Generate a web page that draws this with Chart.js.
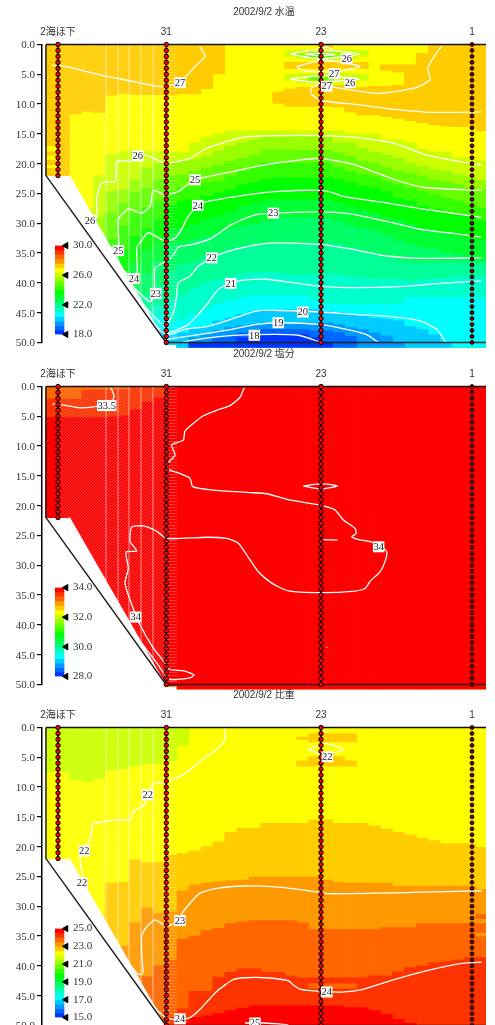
<!DOCTYPE html>
<html>
<head>
<meta charset="utf-8">
<title>2002/9/2</title>
<script src="https://cdn.jsdelivr.net/npm/chart.js@4"></script>
<style>
  html, body { margin: 0; padding: 0; background: #fff; overflow: hidden; width: 495px; height: 1025px; }
  canvas { position: absolute; }
</style>
</head>
<body>
<canvas id="temp" style="left:0;top:0" width="495" height="351"></canvas>
<canvas id="salt" style="left:0;top:342px" width="495" height="351"></canvas>
<canvas id="dens" style="left:0;top:683px" width="495" height="351"></canvas>
<canvas id="tempBar" style="left:50px;top:236px" width="60" height="108"></canvas>
<canvas id="saltBar" style="left:50px;top:578px" width="60" height="108"></canvas>
<canvas id="densBar" style="left:50px;top:919px" width="60" height="108"></canvas>
<script>
const _ = null

// --- STATIONS --- //
const stationNames = ['2海ほ下', '31', '23', '1']
const stationX = [0, 108.3, 263, 414]
const shallowDepths = [0,1,2,3,4,5,6,7,8,9,10,11,12,13,14,15,16,17,18,19,20,21,22]
const deepDepths = [0,1,2,3,4,5,6,7,8,9,10,11,12,13,14,15,16,17,18,19,20,21,22,23,24,25,26,27,28,29,30,31,32,33,34,35,36,37,38,39,40,41,42,43,44,45,46,47,48,49,50]

// --- GRID --- //
const columns = [-6.6,5.4,17.3,29.3,41.3,53.2,65.2,77.2,89.1,101.1,113,125,137,148.9,160.9,172.8,184.8,196.8,208.7,220.7,232.6,244.6,256.6,268.5,280.5,292.5,304.4,316.4,328.3,340.3,352.3,364.2,376.2,388.2,400.1,412.1,424]
const floorDepths = [22,22,25.2,28.7,32.2,35.7,39.2,42.7,46.2,49.7,
  50.3,50.8,50.8,50.8,50.8,50.8,50.8,50.8,50.8,50.8,
  50.8,50.8,50.8,50.8,50.8,50.8,50.8,50.8,50.8,50.8,
  50.8,50.8,50.8,50.8,50.8,50.8,50.8]
const allZero = [0,0,0,0,0,0,0,0,0,0,0,0,0,0,0,0,0,0,0,0,0,0,0,0,0,0,0,0,0,0,0,0,0,0,0,0,0]
const seabedLineX = [-12, -12, 108, 428]
const seabedLineDepth = [0, 22, 50, 50]
const maskX = [10.5, 12, 108]
const maskDepth = [22, 22, 50]
const wedgeEdges = [48, 60, 71, 83, 95]

// colour steps of the scale, top to bottom
const palette = ['#ff0000','#ff3300','#ff6600','#ff9900','#ffcc00','#ffff00','#ccff00','#99ff00','#66ff00','#33ff00','#00ff00','#00ff33','#00ff66','#00ff99','#00ffcc','#00ffff','#00ccff','#0099ff','#0066ff','#0033ff']

// --- WATER TEMPERATURE | band tops per column --- //
const tempOrangeTop = [0,0,0,0,0,0,0,0,0,0,0,0,0,0,0,_,_,_,_,8,7.5,7.2,7.2,6.8,6.8,7,7.2,7,7,6.8,3.4,1.5,0,0,0,0,0]
const tempOrangeBottom = [17,22,11.7,11.2,11.4,8.5,8.2,8.4,8.4,8.4,8.5,8.3,8.3,7.4,4.9,_,_,_,_,9.9,10.4,10.4,10.4,10.4,10.5,11.3,11.8,11.8,12.1,12.4,12.8,13.1,13.5,13.7,13.8,13.8,14.5]
const tempCcff00 = [_,_,_,27.7,22,18.5,18,17.7,18,18,
  18,18,16.5,15.5,15,14.5,14.5,14.5,14.5,14.5,
  14.5,14.5,14.5,14.5,14.5,15,15,15,16,16,
  16.5,17.5,18,18,19,19,19.5]
const temp99ff00 = [_,_,_,_,28.9,24.7,24.4,22.7,20.7,20,
  19.9,19.6,19.3,18.8,17.9,17.1,16.5,16,15.5,15.5,
  15.5,15.5,15.5,15.5,16.5,16.5,17.4,18.1,18.5,19.1,
  19.9,20.5,21,21.3,21.9,22.2,22.8]
const temp66ff00 = [_,_,_,_,32.2,28.3,26.6,24.9,24.1,22.7,
  22.1,21.9,21.3,20.7,20.2,19.6,19.1,18.5,17.7,17.7,
  17.7,17.7,17.7,17.7,18.2,18.8,19.6,19.9,20.7,21.3,
  21.6,22.1,22.7,23,23.5,24.1,24.4]
const temp33ff00 = [_,_,_,_,_,32.8,30.5,28.3,27.4,26.3,
  24.7,24.1,23.8,23.2,23,22.1,21.3,20.7,19.9,19.9,
  19.9,19.9,19.9,19.9,20.7,21.3,21.9,22.2,23,23.5,
  24.1,24.7,25.2,25.8,26.3,26.9,27.5]
const temp00ff00 = [_,_,_,_,_,36.7,34.4,32.2,30.8,29.4,
  26.9,26.3,26,25.5,25,24.4,23.5,23.2,22.7,22.4,
  22.4,22.4,22.4,22.4,22.7,23.2,23.8,24.1,24.7,25.8,
  26.3,27.2,27.7,28.3,28.6,28.9,29.7]
const temp00ff33 = [_,_,_,_,_,_,38.4,36.7,34.4,33.3,
  31,30.8,30.2,29.4,28.9,28,27.2,26.6,26.3,26,
  26,26,26,26,26.6,27.2,27.7,28.3,29.1,29.4,
  30.2,30.8,31.3,31.6,32.2,32.5,33]
const temp00ff66 = [_,_,_,_,_,_,_,40.6,38.4,36.4,
  33.5,33.3,32.8,32.2,31.6,31,30.5,30.2,29.7,29.1,
  29.1,29.1,29.1,29.1,29.7,30.5,31,31.3,32.2,33,
  33.6,34.1,34.4,35,35.3,35.8,36.4]
const temp00ff99 = [_,_,_,_,_,_,_,_,42.2,40.6,
  38,37,36.4,35.5,35,34.4,33.9,33.6,33.3,33.3,
  33.3,33.3,33.3,33.3,33.6,34.1,34.7,35.3,35.8,36.4,
  36.7,36.7,36.7,36.7,36.7,36.7,36.7]
const temp00ffcc = [_,_,_,_,_,_,_,_,44.7,43.9,
  42.8,42,40.9,40,39.5,38.9,38.6,38.3,38.3,38.3,
  38.6,38.6,38.6,38.6,38.6,38.9,39.2,39.5,39.5,39.5,
  39.7,39.5,39.2,39.2,38.9,38.9,38.9]
const temp00ffff = [_,_,_,_,_,_,_,_,_,45.9,
  46.7,46.1,45.3,44.5,43.6,43,42.5,42.2,42.2,42.2,
  42.2,42.2,43,43.6,43.6,43.6,43.6,43.6,43.6,43.6,
  42.5,42.5,42.5,42.5,42.5,42.5,42.5]
const temp00ccff = [_,_,_,_,_,_,_,_,_,47.8,
  48.9,48.4,47.8,47.3,46.4,45.9,45.3,44.8,44.5,44.5,
  44.5,44.5,44.5,44.8,45,45.3,45.6,45.9,46.1,46.4,
  47.3,47.8,48.7,50,_,_,_]
const temp0099ff = [_,_,_,_,_,_,_,_,_,48.9,
  _,_,49.2,48.7,48,47.5,47.2,47,46.7,46.7,
  46.7,46.7,46.7,46.7,47,47.5,47.8,48.4,48.9,50,
  _,_,_,_,_,_,_]
const temp0066ff = [_,_,_,_,_,_,_,_,_,_,
  _,_,50,50,49.2,48.9,48.4,48,47.8,47.8,
  47.8,47.8,48.1,48.1,48.4,49,_,_,_,_,
  _,_,_,_,_,_,_]
const temp0033ff = [_,_,_,_,_,_,_,_,_,_,
  _,_,50,50,50,50,49.2,49,48.7,48.7,
  48.7,48.7,49.2,50,_,_,_,_,_,_,
  _,_,_,_,_,_,_]

// [colour, column indexes, tops, bottoms]
const tempPatches = [
  ['#ffcc00', [0,0,0], [18,19.4,20.8], [18.6,20.2,22]],
  ['#ffcc00', [28,29], [3.4,3.4], [4.3,4.6]],
  ['#ffcc00', [20,21,22,23,24,25,26], [3,3,3,3,3,3,3], [4,4,4,4,4,4,4]],
  ['#ffcc00', [23], [0], [0.6]],
  ['#ccff00', [20,21,22,23,24,25,26], [1,0.9,0.9,0.9,0.9,0.9,1], [2,2.4,2.5,2.5,2.5,2.4,2]],
  ['#99ff00', [21,22,23,24], [1.4,1.3,1.3,1.4], [2,2.2,2.2,2]],
  ['#33ff00', [22,23], [1.7,1.7], [2,2]],
  ['#ccff00', [20,21,22,23,24,25,26], [5,4.9,4.9,4.9,4.9,4.9,5], [6,6.4,6.5,6.5,6.5,6.4,6]],
  ['#66ff00', [22,23], [5.5,5.5], [6,6]]
]

const tempContours = [
  [[-5.7,3.5],[8.7,3.7],[42,5.1],[75.3,6.2],[98.7,7],[108.3,7],[122,6.4],[132,4.6],[138.7,3.4],[147,2],[142,0.4]],
  [[423.7,20.2],[400.3,19.6],[367,18.5],[337,16.6],[297,15.6],[263,15.3],[220.3,15.3],[187,15.5],[168.7,16.3],[148.7,17.4],[132,19.1],[108.3,19.9],[85.3,18.5],[73.7,19.6],[58.7,19.6],[57,23],[43.7,23.2],[38.7,26],[38.7,29.1],[32,29.5]],
  [[423.7,24.5],[367,24],[337,22.7],[297,20.2],[263,19.1],[240.3,19.4],[207,20.2],[167,21.6],[137,22.7],[127,23.8],[120.3,24.7],[107,25.2],[95.3,24.5],[92,27.2],[83.7,28.3],[70.3,27.6],[60.3,29.4],[60.3,34.6],[43.7,33]],
  [[423.3,29],[368.7,27.7],[328.7,26.6],[285.3,25.5],[275.3,24.9],[263,24.5],[223.7,24.6],[190.3,25.2],[143.7,26.6],[130.3,28.8],[123.7,31],[117,32.5],[107,33],[90.3,31.6],[82,33.3],[78.7,34.1],[79.3,37.8],[76,39.3],[54.3,36.2]],
  [[423.3,32.3],[362,31],[328.7,29.7],[295.3,28.5],[263,28.1],[217,28.3],[197,28.6],[173.7,30.2],[153.7,32.5],[133.7,33.6],[120.3,34],[115.3,35.3],[107,36.5],[97,37.5],[96.5,41],[92,43.2],[63.7,38.7]],
  [[423.3,35.8],[362,35.9],[328.7,35.5],[295.3,34.4],[263,33.6],[217,33.3],[190.3,33.9],[160.3,35.3],[140.3,37.2],[132,38.9],[120.3,40],[118.7,42.2],[115.3,45],[107,47.3],[95,45.5],[72,41]],
  [[423.3,39.7],[382,40.1],[345.3,40.6],[295.3,40.8],[263,40.6],[240.3,40.1],[207,39.4],[183.7,39.6],[172.7,40.1],[160.3,41.1],[150.3,43.3],[140.3,45.3],[130.3,47],[120.3,47.8],[107,48.5],[98,47.2],[84,44.5]],
  [[388,50],[378.7,47.8],[362,46.4],[328.7,45.6],[295.3,45.3],[263,44.9],[213.7,44.6],[197,44.8],[173.7,46.1],[150.3,47.3],[127,47.8],[107,49]],
  [[320.3,50],[308.7,48.7],[288.7,47.8],[263,47],[220.3,46.7],[197,47],[173.7,47.8],[140.3,48.7],[107,49.5]],
  [[263,50],[240.3,48.8],[197,48.7],[157,49.1],[123.7,50],[118.7,50.6]],
  [[232,1.6],[247,1.1],[263,0.9],[283.7,1.2],[302,1.6],[283.7,2.1],[263,2.4],[247,2.1],[232,1.6]],
  [[247,1.6],[262,1.5],[277,1.7],[262,1.9],[247,1.6]],
  [[263,0.8],[268.7,0.4],[274.3,0.8]],
  [[238.7,3.7],[263,2.7],[283.7,3],[302,3.7],[283.7,4.4],[263,4.6],[243.7,4.3],[238.7,3.7]],
  [[232,5.8],[263,5.2],[283.7,5.5],[302,5.8],[283.7,6.1],[263,6.4],[247,6.2],[232,5.8]],
  [[383.7,0.3],[377,1.8],[369.7,4],[372,5.9],[357,7.3],[320.3,8.2],[287,7.5],[263,6.8],[253.7,7.2],[252.7,8.2],[263,9.4],[300.3,10.1],[337,10.9],[373.7,11.4],[423.7,11.3]]
]
const tempLabelText = ['27','26','26','25','24','23','22','21','20','19','18','26','27','27','26','25','24','23']
const tempLabelX = [122,79.7,32,137,139.7,215.3,153.7,172.7,244.7,220.3,196.3,288.7,276.3,268.7,292,60.3,76,97.7]
const tempLabelDepth = [6.4,18.7,29.5,22.7,27,28.3,35.8,40.1,44.9,46.7,48.8,2.4,4.9,7,6.4,34.6,39.3,41.8]
const tempLevels = [18,18.6,19.2,19.8,20.4,21,21.6,22.2,22.8,23.4,24,24.6,25.2,25.8,26.4,27,27.6,28.2,28.8,29.4,30]
const tempTicks = [18,22,26,30]

// --- SALINITY | band tops per column --- //
const saltFf3300Top = [0,0,0,0,0,0,0,0,0,0,_,_,_,_,_,_,_,_,_,_,_,_,_,_,_,_,_,_,_,_,_,_,_,_,_,_,_]
const saltFf3300Bottom = [5.1,5.1,5.1,5.1,5.1,5,4.8,3.8,2.5,1.8,_,_,_,_,_,_,_,_,_,_,_,_,_,_,_,_,_,_,_,_,_,_,_,_,_,_,_]
const saltPatches = [
  ['#ff6600', [0,1,2], [0,0,0], [2,2,2]],
  ['#ff6600', [3,4,5,6], [0,0,0,0], [0.5,0.5,0.5,0.4]]
]
const saltContours = [
  [[-5.7,2.9],[8.7,3.2],[23.7,3.6],[40.3,3.3],[53.7,2.6],[56,1.6],[53,0.2]],
  [[186.3,0.2],[182,1.8],[172,3.2],[158.7,4],[145.3,4.9],[135.3,6.2],[127,7.5],[125.3,9],[113.7,9.8],[117,11.5],[110.3,12.8],[108.7,13.8],[118.7,14.4],[132,15.4],[134.7,16.8],[155.3,17.4],[192,17.8],[208.7,18],[230.3,19],[262,19.9],[277,20.7],[285.3,22.4],[297,23.8],[298,24.7],[293.7,25.2],[298.7,25.6],[317,26.3],[328.7,27.7],[327,29.4],[322,31.1],[312,32.7],[307,33.9],[293.7,34.4],[263,34.6],[230.3,34.3],[213.7,33],[200.3,31.1],[192,29.1],[180.3,26.3],[168.7,25.5],[148.7,25.3],[108.7,25.5],[98.7,24.3],[85.3,23.4],[73.7,23.6],[72,26],[78.7,27.6],[68,27.8],[70.3,30.5],[67,33],[73.7,36.6],[82,40],[95.3,43.9],[107,46.4],[112,47.5],[125.3,47.7],[136,48.4],[132,48.9],[112,49.2],[107,48.4],[98.7,46.4],[62,38.3]],
  [[245.3,16.7],[263,16.3],[279.7,16.7],[263,17.2],[245.3,16.7]],
  [[265.3,25.7],[279.7,25.8],[265.3,25.7]],
  [[268.2,43.8],[269.2,43.8]]
]
const saltLabelText = ['33.5','34','34']
const saltLabelX = [48.7,77.7,320.7]
const saltLabelDepth = [3.2,38.7,26.9]
const saltLevels = [28,28.3,28.6,28.9,29.2,29.5,29.8,30.1,30.4,30.7,31,31.3,31.6,31.9,32.2,32.5,32.8,33.1,33.4,33.7,34]
const saltTicks = [28,30,32,34]

// --- DENSITY | band tops per column --- //
const densCcff00Top = [0,0,0,0,0,0,0,0,0,0,0,0,_,_,_,_,_,_,_,_,_,_,_,_,_,_,_,_,_,_,_,_,_,_,_,_,_]
const densCcff00Bottom = [7.4,7.4,8.8,9.1,8.5,7.1,6.9,6.5,6.1,5.9,5.7,3,_,_,_,_,_,_,_,_,_,_,_,_,_,_,_,_,_,_,_,_,_,_,_,_,_]
const densFfcc00 = [_,_,_,_,31.7,26.1,26,22.2,22.7,22.6,
  21.4,21.1,20.7,20,19.2,17.6,16.9,16.9,16.1,16.1,
  16.1,16.1,15.5,15.5,16.1,16.1,16.1,16.5,17.1,17.6,
  18,18.6,19,19.5,19.5,19.5,20.1]
const densFf9900 = [_,_,_,_,_,_,36.7,32.8,30.3,31.2,
  30.9,27.4,26.4,26.1,25.9,25.7,25.6,25.1,25.1,25.1,
  25.1,25.1,25.1,25.6,26,26.1,26.1,26.1,26.1,26.6,
  26.6,26.6,26.6,26.6,26.6,26.6,27.2]
const densFf6600 = [_,_,_,_,_,_,_,_,41.8,40,
  39,35.5,35,34.1,33.7,32.9,32.6,32.4,32.4,32.4,
  32.4,32.8,33.9,33.9,33.9,33.9,33.9,33.9,33.6,33.6,
  33.6,32.9,32.9,32.9,32.9,32.9,32.9]
const densFf3300 = [_,_,_,_,_,_,_,_,_,_,
  48.5,47.2,44.3,44.3,41.9,41.1,40.5,40.5,41.1,41.1,
  41.7,42,42,42,42,42,42,41.7,41.7,41,
  40.3,40,39.5,39.3,39,38.6,38.6]
const densFf0000 = [_,_,_,_,_,_,_,_,_,_,
  _,49.6,48.7,48.4,48,47.5,47.1,46.7,46.7,46.7,
  46.7,46.7,46.7,46.7,46.7,47,47,47.5,48.2,49,
  49.6,_,_,_,_,_,_]
const densPatches = [
  ['#ffcc00', [21,22,23,24,25], [1.6,1,1,1,1], [2,2.4,2.4,2.4,2.4]],
  ['#ffcc00', [22,23,24], [4.9,4.9,4.9], [5.6,5.6,5.6]],
  ['#ffcc00', [21,22,23,24,25], [5.6,5.6,5.6,5.6,5.6], [6.5,6.5,6.5,6.5,6.5]],
  ['#ff6600', [36], [31.4], [32.1]],
  ['#ff9900', [36], [34.5], [35]],
  ['#ff6600', [22,23,24,25], [43,43,43,43], [43.8,43.8,43.8,43.8]]
]
const densContours = [
  [[167.7,0.2],[166,2.4],[155.3,4.1],[145.3,5.2],[133.7,6.9],[118.7,8.5],[108.3,9.1],[95.3,9.5],[89.7,11.3],[86,13],[75.3,14.1],[72,15.5],[55.3,15.5],[45.3,15.8],[34.7,16.2],[32.7,18.3],[26.3,20.7],[22,21.9],[23,23.3],[24.7,25],[24,26.1]],
  [[250.3,3.7],[267,2.7],[285.3,3.7],[267,4.6],[250.3,3.7]],
  [[265.3,0.7],[270.3,0.7]],
  [[421.3,0.7],[423.7,0.7]],
  [[423.7,27.4],[373.7,27.6],[320.3,27.8],[273.7,27.9],[262,27.7],[237,27.1],[213.7,26.7],[187,26.6],[158.7,27],[142,27.8],[132,29.5],[123.7,31.3],[122,32.4],[108.3,33.3],[97,32.3],[88.7,33.4],[83.7,34.9],[83.7,37.9],[84.7,41.2],[80.3,41.4],[70.3,39.5],[60.3,37.9]],
  [[423.7,39.4],[403.7,39.6],[367,40.9],[330.3,42.6],[303.7,44],[283.7,44.4],[263,44.3],[242,43.9],[235.3,43.2],[230.3,42.5],[207,42],[187,42],[175.3,42.3],[158.7,44.3],[142,47.3],[132,48.7],[118.7,49.1],[108.3,48.7],[98.7,47.3],[85.3,44.3]],
  [[187,49.6],[207,49.6],[230.3,49.9]]
]
const densLabelText = ['22','22','22','22','23','24','24','25']
const densLabelX = [89.7,26.3,24,269.3,122,122,268.7,197]
const densLabelDepth = [11.3,20.7,26.1,4.9,32.4,48.9,44.4,49.6]
const densLevels = [15,15.5,16,16.5,17,17.5,18,18.5,19,19.5,20,20.5,21,21.5,22,22.5,23,23.5,24,24.5,25]
const densTicks = [15,17,19,21,23,25]

// --- HELPERS --- //
const serif = "'Liberation Serif', serif"
const sans = "'Liberation Sans', 'Noto Sans CJK JP', sans-serif"

function stripePattern (draw, size) {
  const c = document.createElement('canvas')
  c.width = size
  c.height = size
  const g = c.getContext('2d')
  g.strokeStyle = 'rgba(255,255,255,0.22)'
  g.lineWidth = 1
  g.beginPath()
  draw(g)
  g.stroke()
  return g.createPattern(c, 'repeat')
}
const diagonalStripes = stripePattern(g => {
  g.moveTo(0, 3); g.lineTo(3, 0)
  g.moveTo(-1, 1); g.lineTo(1, -1)
  g.moveTo(2, 4); g.lineTo(4, 2)
}, 3)
const flatStripes = stripePattern(g => { g.moveTo(0, 0.5); g.lineTo(3, 0.5) }, 3)

// bars of one colour, one per column
function barSet (color, tops, bottoms) {
  const data = []
  columns.forEach((x, i) => {
    const top = tops[i]
    const bottom = bottoms[i]
    if (top !== null && bottom !== null && top < floorDepths[i]) data.push({ x, y: [top, bottom] })
  })
  return { type: 'bar', data, backgroundColor: color, grouped: false, barThickness: 12, clip: { left: 0, top: 0, right: 0, bottom: false } }
}

function patchSet ([color, cols, tops, bottoms]) {
  const data = cols.map((c, i) => ({ x: columns[c], y: [tops[i], bottoms[i]] }))
  return { type: 'bar', data, backgroundColor: color, grouped: false, barThickness: 12 }
}

function lineSet (points, extra) {
  return Object.assign({
    type: 'line',
    data: points.map(p => ({ x: p[0], y: p[1] })),
    pointRadius: 0,
    borderColor: '#fff',
    borderWidth: 1.3,
    tension: 0.2,
    fill: false
  }, extra)
}

function stationSet (x, depths, last) {
  return {
    type: 'line',
    data: depths.map(d => ({ x, y: d })),
    showLine: !last,
    borderColor: '#000',
    borderWidth: 1.5,
    pointRadius: last ? 1.9 : 2.2,
    pointBorderWidth: 1,
    pointBorderColor: '#000',
    pointBackgroundColor: last ? '#8a0000' : '#ff0000',
    clip: false,
    fill: false
  }
}

// white boxes with the isoline value
const contourLabelPlugin = {
  id: 'contourLabels',
  afterDatasetsDraw (chart, args, opts) {
    const ctx = chart.ctx
    ctx.save()
    ctx.font = `10.5px ${serif}`
    ctx.textAlign = 'center'
    ctx.textBaseline = 'middle'
    opts.text.forEach((t, i) => {
      const px = chart.scales.x.getPixelForValue(opts.x[i])
      const py = chart.scales.y.getPixelForValue(opts.depth[i])
      const w = ctx.measureText(t).width + 1
      ctx.fillStyle = '#fff'
      ctx.fillRect(px - w / 2, py - 5.5, w, 11)
      ctx.fillStyle = '#222'
      ctx.fillText(t, px, py + 0.5)
    })
    ctx.restore()
  }
}

function makePanel (id, title, bands, patches, contours, labels) {
  const wedgeLines = []
  wedgeEdges.forEach(x => { wedgeLines.push([x, 0], [x, 50], [x, null]) })
  const painted = [
    barSet('#ffff00', allZero, floorDepths),
    ...bands,
    ...patches.map(patchSet),
    lineSet([[0, 0], [108.3, 0]], { borderWidth: 0, tension: 0, fill: { value: 50 }, backgroundColor: diagonalStripes }),
    lineSet([[108.3, 0], [119, 0]], { borderWidth: 0, tension: 0, fill: { value: 50 }, backgroundColor: flatStripes }),
    lineSet(wedgeLines, { borderColor: 'rgba(255,255,255,0.2)', borderWidth: 1, tension: 0, spanGaps: false }),
    lineSet(maskX.map((x, i) => [x, maskDepth[i]]), { borderWidth: 0, tension: 0, fill: { value: 50 }, backgroundColor: '#fff' }),
    ...contours.map(c => lineSet(c)),
    lineSet(seabedLineX.map((x, i) => [x, seabedLineDepth[i]]), { borderColor: '#222', borderWidth: 1.5, tension: 0, clip: false }),
    lineSet([[-12, 0], [428, 0]], { borderColor: '#111', borderWidth: 1.5, tension: 0, clip: false }),
    stationSet(stationX[0], shallowDepths),
    stationSet(stationX[1], deepDepths),
    stationSet(stationX[2], deepDepths),
    stationSet(stationX[3], deepDepths, true)
  ]
  // the lowest order is drawn last, so count down
  painted.forEach((d, i) => { d.order = painted.length - i })

  return new Chart(document.getElementById(id), {
    data: { datasets: painted },
    plugins: [contourLabelPlugin],
    options: {
      responsive: false,
      animation: false,
      layout: { padding: { right: 9 } },
      scales: {
        x: {
          type: 'linear',
          position: 'top',
          offset: false,
          min: -16,
          max: 428,
          afterFit: s => { s.height = 26.5 },
          afterBuildTicks: s => { s.ticks = stationX.map(v => ({ value: v })) },
          border: { display: false },
          grid: { display: false, drawTicks: false, offset: false },
          ticks: {
            padding: 6,
            autoSkip: false,
            maxRotation: 0,
            color: '#333',
            font: { family: sans, size: 10 },
            callback: v => stationNames[stationX.indexOf(v)]
          }
        },
        y: {
          type: 'linear',
          reverse: true,
          min: 0,
          max: 50,
          afterFit: s => { s.width = 42 },
          border: { color: '#000', width: 1.5 },
          grid: { drawOnChartArea: false, tickLength: 5, color: '#000', lineWidth: 1.2 },
          ticks: {
            stepSize: 5,
            padding: 2,
            labelOffset: 1,
            color: '#333',
            font: { family: serif, size: 11 },
            callback: v => v.toFixed(1)
          }
        }
      },
      plugins: {
        legend: { display: false },
        tooltip: { enabled: false },
        title: {
          display: true,
          text: title,
          fullSize: false,
          color: '#333',
          padding: { top: 6, bottom: 0 },
          font: { family: sans, size: 10, weight: 'normal', lineHeight: 1.2 }
        },
        contourLabels: labels
      }
    }
  })
}

function makeColorbar (id, levels, ticks) {
  const min = levels[0]
  const max = levels[levels.length - 1]
  const steps = levels.slice(0, -1).map((v, i) => ({ x: 4.5, y: [v, levels[i + 1]] }))
  return new Chart(document.getElementById(id), {
    data: {
      datasets: [
        {
          type: 'line',
          data: ticks.map(v => ({ x: 11, y: v })),
          showLine: false,
          pointStyle: 'triangle',
          rotation: -90,
          pointRadius: 3.6,
          pointBackgroundColor: '#000',
          pointBorderColor: '#000',
          clip: false
        },
        {
          type: 'bar',
          data: steps,
          backgroundColor: steps.map((s, i) => palette[palette.length - 1 - i]),
          barThickness: 9
        }
      ]
    },
    options: {
      responsive: false,
      animation: false,
      layout: { padding: { left: 5, top: 2, bottom: 2, right: 10 } },
      scales: {
        x: { type: 'linear', min: 0, max: 15, display: false, offset: false },
        y: {
          type: 'linear',
          position: 'right',
          min,
          max,
          afterFit: s => { s.width = 30 },
          afterBuildTicks: s => { s.ticks = ticks.map(v => ({ value: v })) },
          border: { display: false },
          grid: { display: false, drawTicks: false },
          ticks: {
            padding: 3,
            color: '#333',
            font: { family: serif, size: 11 },
            callback: v => v.toFixed(1)
          }
        }
      },
      plugins: { legend: { display: false }, tooltip: { enabled: false } }
    }
  })
}

// --- CHARTS --- //
makePanel('temp', '2002/9/2 水温',
  [
    barSet('#ffcc00', tempOrangeTop, tempOrangeBottom),
    barSet('#ccff00', tempCcff00, floorDepths),
    barSet('#99ff00', temp99ff00, floorDepths),
    barSet('#66ff00', temp66ff00, floorDepths),
    barSet('#33ff00', temp33ff00, floorDepths),
    barSet('#00ff00', temp00ff00, floorDepths),
    barSet('#00ff33', temp00ff33, floorDepths),
    barSet('#00ff66', temp00ff66, floorDepths),
    barSet('#00ff99', temp00ff99, floorDepths),
    barSet('#00ffcc', temp00ffcc, floorDepths),
    barSet('#00ffff', temp00ffff, floorDepths),
    barSet('#00ccff', temp00ccff, floorDepths),
    barSet('#0099ff', temp0099ff, floorDepths),
    barSet('#0066ff', temp0066ff, floorDepths),
    barSet('#0033ff', temp0033ff, floorDepths)
  ],
  tempPatches, tempContours,
  { text: tempLabelText, x: tempLabelX, depth: tempLabelDepth })

makePanel('salt', '2002/9/2 塩分',
  [
    barSet('#ff0000', allZero, floorDepths),
    barSet('#ff3300', saltFf3300Top, saltFf3300Bottom)
  ],
  saltPatches, saltContours,
  { text: saltLabelText, x: saltLabelX, depth: saltLabelDepth })

makePanel('dens', '2002/9/2 比重',
  [
    barSet('#ccff00', densCcff00Top, densCcff00Bottom),
    barSet('#ffcc00', densFfcc00, floorDepths),
    barSet('#ff9900', densFf9900, floorDepths),
    barSet('#ff6600', densFf6600, floorDepths),
    barSet('#ff3300', densFf3300, floorDepths),
    barSet('#ff0000', densFf0000, floorDepths)
  ],
  densPatches, densContours,
  { text: densLabelText, x: densLabelX, depth: densLabelDepth })

makeColorbar('tempBar', tempLevels, tempTicks)
makeColorbar('saltBar', saltLevels, saltTicks)
makeColorbar('densBar', densLevels, densTicks)
</script>
</body>
</html>
